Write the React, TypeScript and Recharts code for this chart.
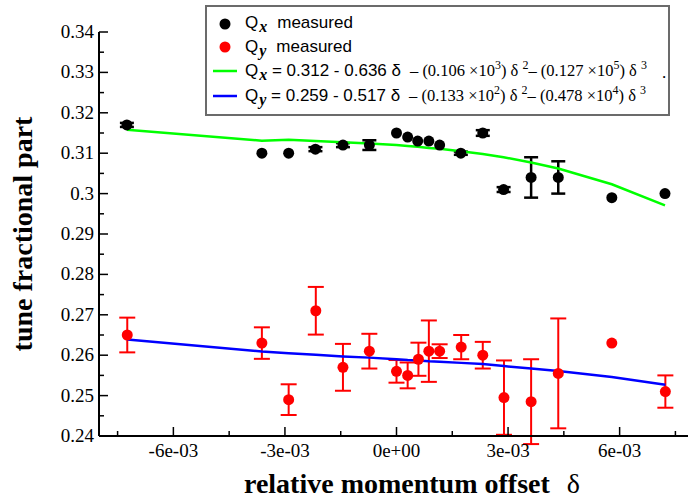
import React from "react";
import { ComposedChart, Scatter, Line, XAxis, YAxis, ErrorBar } from "recharts";

// measured horizontal tune (Qx)
const qxDelta = [-0.00725, -0.00362, -0.0029, -0.00218, -0.00144, -0.00073, 0, 0.0003, 0.00057, 0.00087, 0.00116, 0.00173, 0.00232, 0.00288, 0.00362, 0.00435, 0.00579, 0.00722];
const qxValue = [0.317, 0.31, 0.31, 0.311, 0.312, 0.312, 0.315, 0.314, 0.313, 0.313, 0.312, 0.31, 0.315, 0.301, 0.304, 0.304, 0.299, 0.3];
const qxErr = [0.0005, 0, 0, 0.0005, 0.0005, 0.0012, 0, 0, 0, 0, 0, 0.0004, 0.0007, 0.0006, 0.005, 0.004, 0, 0];

// measured vertical tune (Qy)
const qyDelta = [-0.00724, -0.00362, -0.0029, -0.00217, -0.00144, -0.00073, 0, 0.0003, 0.00059, 0.00087, 0.00116, 0.00174, 0.00232, 0.00289, 0.00362, 0.00435, 0.00579, 0.00723];
const qyValue = [0.265, 0.263, 0.249, 0.271, 0.257, 0.261, 0.256, 0.255, 0.259, 0.261, 0.261, 0.262, 0.26, 0.2495, 0.2485, 0.2555, 0.263, 0.251];
const qyErr = [0.0043, 0.0039, 0.0038, 0.0059, 0.0058, 0.0043, 0.0028, 0.0032, 0.0041, 0.0076, 0.0017, 0.003, 0.0033, 0.0092, 0.0105, 0.0136, 0, 0.004];

// fitted curves, read at the measured offsets
const qxFitValue = [0.3158, 0.3131, 0.3133, 0.313, 0.3127, 0.3124, 0.312, 0.3118, 0.3116, 0.3113, 0.3111, 0.3105, 0.3098, 0.309, 0.3077, 0.3062, 0.3023, 0.2971];
const qyFitValue = [0.2639, 0.2609, 0.2605, 0.2601, 0.2597, 0.2594, 0.259, 0.2588, 0.2587, 0.2585, 0.2584, 0.2581, 0.2578, 0.2573, 0.2567, 0.2561, 0.2546, 0.2527];

const xMajorTicks = [-0.006, -0.003, 0, 0.003, 0.006];
const xTickLabels = ["-6e-03", "-3e-03", "0e+00", "3e-03", "6e-03"];
const xMinorTicks = [-0.0075, -0.0045, -0.0015, 0.0015, 0.0045, 0.0075];
const yMajorTicks = [0.24, 0.25, 0.26, 0.27, 0.28, 0.29, 0.3, 0.31, 0.32, 0.33, 0.34];
const yMinorTicks = [0.245, 0.255, 0.265, 0.275, 0.285, 0.295, 0.305, 0.315, 0.325, 0.335];

const qxData = qxDelta.map((d, i) => ({ d, q: qxValue[i], err: qxErr[i] }));
const qyData = qyDelta.map((d, i) => ({ d, q: qyValue[i], err: qyErr[i] }));
const qxFit = qxDelta.map((d, i) => ({ d, q: qxFitValue[i] }));
const qyFit = qyDelta.map((d, i) => ({ d, q: qyFitValue[i] }));

const xTicks = [...xMajorTicks, ...xMinorTicks].sort((a, b) => a - b);
const yTicks = [...yMajorTicks, ...yMinorTicks].sort((a, b) => a - b);

const SERIF = "'Liberation Serif', 'Times New Roman', serif";
const SANS = "'Liberation Sans', Arial, sans-serif";

const isIn = (list: number[], v: number) => list.some((m) => Math.abs(m - v) < 1e-9);

const tickText = { fontFamily: SERIF, fontSize: 19 };

const makeTick = (side: "left" | "right" | "top" | "bottom", withLabels: boolean) => (props: any) => {
  const { x, y, payload } = props;
  const v = payload.value;
  const horiz = side === "top" || side === "bottom";
  const major = isIn(horiz ? xMajorTicks : yMajorTicks, v);
  const len = major ? 9 : 5;
  let line;
  if (side === "left") line = <line x1={x} y1={y} x2={x + len} y2={y} />;
  else if (side === "right") line = <line x1={x} y1={y} x2={x - len} y2={y} />;
  else if (side === "top") line = <line x1={x} y1={y} x2={x} y2={y + len} />;
  else line = <line x1={x} y1={y} x2={x} y2={y - len} />;
  let label = null;
  if (withLabels && major) {
    if (side === "left") {
      label = (
        <text x={x - 5} y={y + 6} textAnchor="end" style={tickText} fill="#000" stroke="none">
          {String(Number(v.toFixed(2)))}
        </text>
      );
    } else {
      const idx = xMajorTicks.findIndex((m) => Math.abs(m - v) < 1e-9);
      label = (
        <text x={x} y={y + 21} textAnchor="middle" style={tickText} fill="#000" stroke="none">
          {xTickLabels[idx]}
        </text>
      );
    }
  }
  return (
    <g stroke="#000" strokeWidth={1.5}>
      {line}
      {label}
    </g>
  );
};

const Dot = (color: string) => (p: any) => <circle cx={p.cx} cy={p.cy} r={5.5} fill={color} />;

const Sub = ({ c }: { c: string }) => (
  <span style={{ fontFamily: SERIF, fontStyle: "italic", fontWeight: "bold", fontSize: 16, position: "relative", top: 4, marginLeft: 1 }}>
    {c}
  </span>
);

const Sup = ({ c }: { c: string }) => (
  <span style={{ fontSize: 12, position: "relative", top: -7 }}>{c}</span>
);

const Legend = () => (
  <div
    style={{
      position: "absolute",
      left: 205,
      top: 5,
      width: 461,
      height: 107,
      border: "2px solid #6b6b6b",
      background: "#fff",
      fontFamily: SANS,
      fontSize: 17,
      color: "#000",
    }}
  >
    <svg width={40} height={107} style={{ position: "absolute", left: 0, top: 0 }}>
      <circle cx={18} cy={17} r={5.5} fill="#000" />
      <circle cx={18} cy={40} r={5.5} fill="#ff0000" />
      <line x1={6} y1={64} x2={30} y2={64} stroke="#00ff00" strokeWidth={2.5} />
      <line x1={6} y1={89} x2={30} y2={89} stroke="#0000ff" strokeWidth={2.5} />
    </svg>
    <div style={{ position: "absolute", left: 38, top: 6, whiteSpace: "nowrap" }}>
      Q<Sub c="x" />
      <span style={{ marginLeft: 10 }}>measured</span>
    </div>
    <div style={{ position: "absolute", left: 38, top: 30, whiteSpace: "nowrap" }}>
      Q<Sub c="y" />
      <span style={{ marginLeft: 10 }}>measured</span>
    </div>
    <div style={{ position: "absolute", left: 38, top: 54, whiteSpace: "nowrap" }}>
      Q<Sub c="x" /> = 0.312 - 0.636 δ
      <span style={{ fontFamily: SERIF, fontSize: 16.5, marginLeft: 9 }}>
        – (0.106 ×10<Sup c="3" />) δ <Sup c="2" />– (0.127 ×10<Sup c="5" />) δ <Sup c="3" />
      </span>
    </div>
    <div style={{ position: "absolute", left: 455, top: 56, fontFamily: SERIF }}>.</div>
    <div style={{ position: "absolute", left: 38, top: 79, whiteSpace: "nowrap" }}>
      Q<Sub c="y" /> = 0.259 - 0.517 δ
      <span style={{ fontFamily: SERIF, fontSize: 16.5, marginLeft: 9 }}>
        – (0.133 ×10<Sup c="2" />) δ <Sup c="2" />– (0.478 ×10<Sup c="4" />) δ <Sup c="3" />
      </span>
    </div>
  </div>
);

const axisLine = { stroke: "#000", strokeWidth: 2 };

export default function App() {
  return (
    <div style={{ position: "absolute", left: 0, top: 0, width: 688, height: 504, overflow: "hidden", background: "#fff" }}>
      <ComposedChart width={700} height={504} margin={{ top: 32, right: 6, bottom: 38, left: 0 }}>
        <XAxis
          xAxisId="b"
          type="number"
          dataKey="d"
          domain={[-0.008, 0.008]}
          allowDataOverflow
          ticks={xTicks}
          interval={0}
          height={30}
          tickSize={0}
          tickMargin={0}
          tickLine={false}
          axisLine={axisLine}
          tick={makeTick("bottom", true)}
          label={{
            content: () => (
              <text x={412} y={493} textAnchor="middle" style={{ fontFamily: SERIF, fontSize: 28, fontWeight: "bold" }} fill="#000">
                relative momentum offset{"  "}
                <tspan style={{ fontWeight: "normal" }} dx={10}>δ</tspan>
              </text>
            ),
          }}
        />
        <XAxis
          xAxisId="t"
          orientation="top"
          type="number"
          dataKey="d"
          domain={[-0.008, 0.008]}
          allowDataOverflow
          ticks={xTicks}
          interval={0}
          height={0}
          tickSize={0}
          tickMargin={0}
          tickLine={false}
          axisLine={axisLine}
          tick={makeTick("top", false)}
        />
        <YAxis
          yAxisId="l"
          type="number"
          domain={[0.24, 0.34]}
          allowDataOverflow
          ticks={yTicks}
          interval={0}
          width={99}
          tickSize={0}
          tickMargin={0}
          tickLine={false}
          axisLine={axisLine}
          tick={makeTick("left", true)}
          label={{
            content: () => (
              <text
                x={32}
                y={234}
                transform="rotate(-90 32 234)"
                textAnchor="middle"
                style={{ fontFamily: SERIF, fontSize: 28, fontWeight: "bold" }}
                fill="#000"
              >
                tune fractional part
              </text>
            ),
          }}
        />
        <YAxis
          yAxisId="r"
          orientation="right"
          type="number"
          domain={[0.24, 0.34]}
          allowDataOverflow
          ticks={yTicks}
          interval={0}
          width={0}
          tickSize={0}
          tickMargin={0}
          tickLine={false}
          axisLine={axisLine}
          tick={makeTick("right", false)}
        />
        <Scatter data={qxData} dataKey="q" xAxisId="b" yAxisId="l" shape={Dot("#000")} isAnimationActive={false}>
          <ErrorBar dataKey="err" direction="y" width={7} stroke="#000" strokeWidth={2.5} />
        </Scatter>
        <Scatter data={qyData} dataKey="q" xAxisId="b" yAxisId="l" shape={Dot("#ff0000")} isAnimationActive={false}>
          <ErrorBar dataKey="err" direction="y" width={8} stroke="#ff0000" strokeWidth={2} />
        </Scatter>
        <Line data={qxFit} dataKey="q" xAxisId="b" yAxisId="l" type="linear" stroke="#00ff00" strokeWidth={2.5} dot={false} isAnimationActive={false} />
        <Line data={qyFit} dataKey="q" xAxisId="b" yAxisId="l" type="linear" stroke="#0000ff" strokeWidth={2.5} dot={false} isAnimationActive={false} />
      </ComposedChart>
      <Legend />
    </div>
  );
}
